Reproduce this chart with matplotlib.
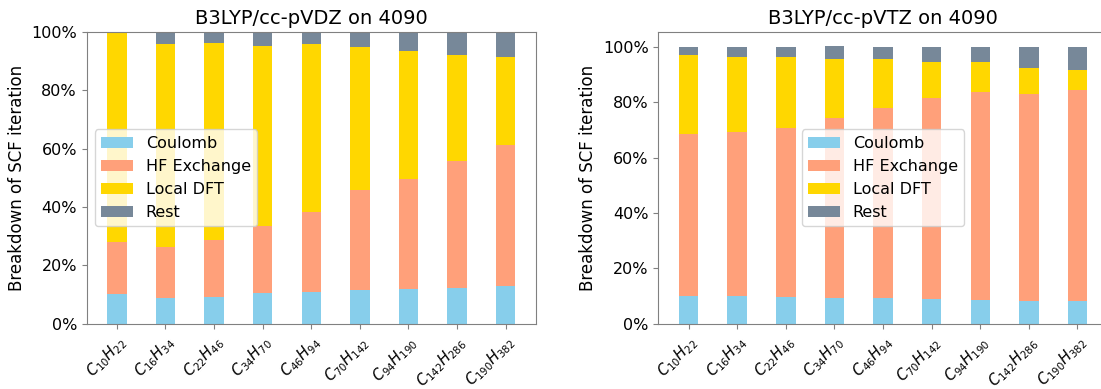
import numpy as np
import matplotlib
matplotlib.use("Agg")
import matplotlib.pyplot as plt
from matplotlib.ticker import PercentFormatter

plt.rcParams['axes.edgecolor'] = 'gray'
plt.rcParams['xtick.color'] = 'gray'
plt.rcParams['ytick.color'] = 'gray'
plt.rcParams['xtick.labelcolor'] = 'black'
plt.rcParams['ytick.labelcolor'] = 'black'

molecules = ["$C_{10}H_{22}$", "$C_{16}H_{34}$", "$C_{22}H_{46}$", "$C_{34}H_{70}$",
             "$C_{46}H_{94}$", "$C_{70}H_{142}$", "$C_{94}H_{190}$", "$C_{142}H_{286}$",
             "$C_{190}H_{382}$"]
parts = ["Coulomb", "HF Exchange", "Local DFT", "Rest"]
colors = ["skyblue", "lightsalmon", "gold", "lightslategray"]

# fraction of one SCF iteration spent in each part
dz_coulomb = [0.103, 0.089, 0.091, 0.105, 0.110, 0.117, 0.119, 0.123, 0.130]
dz_hfx     = [0.178, 0.174, 0.196, 0.230, 0.273, 0.341, 0.377, 0.435, 0.483]
dz_dft     = [0.719, 0.696, 0.675, 0.617, 0.576, 0.491, 0.439, 0.363, 0.301]
dz_rest    = [0.002, 0.041, 0.038, 0.048, 0.041, 0.051, 0.065, 0.079, 0.086]

tz_coulomb = [0.101, 0.101, 0.096, 0.094, 0.094, 0.089, 0.086, 0.082, 0.082]
tz_hfx     = [0.583, 0.590, 0.610, 0.650, 0.684, 0.725, 0.750, 0.749, 0.761]
tz_dft     = [0.287, 0.273, 0.258, 0.213, 0.179, 0.132, 0.110, 0.093, 0.074]
tz_rest    = [0.029, 0.036, 0.036, 0.047, 0.043, 0.054, 0.054, 0.076, 0.083]


def stacked(ax, series, title, loc):
    x = np.arange(len(molecules))
    bottom = np.zeros(len(molecules))
    for vals, name, c in zip(series, parts, colors):
        ax.bar(x, vals, 0.4, bottom=bottom, color=c, label=name)
        bottom += np.array(vals)
    ax.set_xticks(x)
    ax.set_xticklabels(molecules, rotation=45, ha='right', rotation_mode='anchor',
                       fontsize=10.5)
    ax.yaxis.set_major_formatter(PercentFormatter(1.0, decimals=0))
    ax.tick_params(axis='y', labelsize=11.5)
    ax.set_ylabel("Breakdown of SCF iteration", fontsize=12)
    ax.set_title(title, fontsize=14)
    ax.legend(loc=loc, fontsize=11.5)


fig, (ax1, ax2) = plt.subplots(1, 2, figsize=(11.01, 3.89), dpi=100)
fig.subplots_adjust(left=0.0787, right=1.006, bottom=0.168, top=0.918, wspace=0.273)

stacked(ax1, [dz_coulomb, dz_hfx, dz_dft, dz_rest], "B3LYP/cc-pVDZ on 4090", "center left")
ax1.set_ylim(0, 1)
stacked(ax2, [tz_coulomb, tz_hfx, tz_dft, tz_rest], "B3LYP/cc-pVTZ on 4090", "center")

fig.savefig("out.png", dpi=100)
